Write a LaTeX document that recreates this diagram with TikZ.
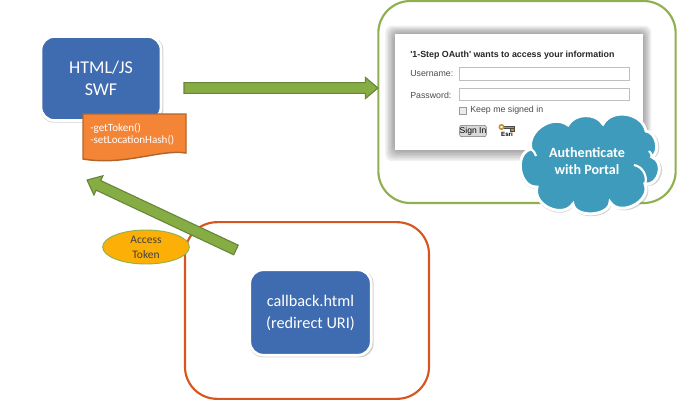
\documentclass[tikz,border=0pt]{standalone}
\usepackage{fontspec}
\setmainfont{Carlito}
\newfontfamily\formfont{Liberation Sans}
\usetikzlibrary{calc,shapes.geometric,shadows}

\definecolor{boxblue}{HTML}{3F6BB0}
\definecolor{popgreen}{HTML}{8FB04E}
\definecolor{arrowfill}{HTML}{86AC44}
\definecolor{arrowline}{HTML}{66843A}
\definecolor{redline}{HTML}{D9551F}
\definecolor{docfill}{HTML}{F58536}
\definecolor{docline}{HTML}{B0652C}
\definecolor{tokenfill}{HTML}{FCAF06}
\definecolor{cloudblue}{HTML}{3F9BBB}
\definecolor{keygold}{HTML}{C8922A}

\tikzset{
  softshadow/.style={drop shadow={opacity=.35,shadow scale=1.025,shadow xshift=.7pt,shadow yshift=-.8pt}},
  pagebox/.style={draw=white,line width=2pt,fill=boxblue,rounded corners=10pt,text=white,align=center,softshadow},
  framebox/.style={draw=#1,line width=1.6pt,rounded corners=24pt},
  formfield/.style={draw=black!25,line width=.7pt,fill=white,minimum width=128pt,minimum height=9.2pt,inner sep=0pt},
  formtext/.style={font=\formfont\fontsize{6.6}{8}\selectfont,text=black!70,inner sep=0pt},
  blockarrow/.style={fill=arrowfill,draw=arrowline,line width=.8pt,line join=miter},
}

% block arrow between two named points
\newcommand{\blockarrow}[2]{
  \coordinate (h) at ($(#2)!9.5pt!(#1)$);
  \draw[blockarrow] ($(#1)!4pt!90:(#2)$) -- ($(h)!4pt!-90:(#1)$) -- ($(h)!8pt!-90:(#1)$) -- (#2)
    -- ($(h)!8pt!90:(#1)$) -- ($(h)!4pt!90:(#1)$) -- ($(#1)!4pt!-90:(#2)$) -- cycle;
}

\begin{document}
\begin{tikzpicture}[x=.75pt,y=-.75pt]
\useasboundingbox (0,0) rectangle (678,400);

% popup frame
\node[framebox=popgreen,minimum width=223pt,minimum height=151.5pt] (popup) at (527,102) {};
\node[text=white,font=\bfseries\fontsize{12}{14}\selectfont,inner sep=0pt] (poptitle) at (518,21) {OAuth Login Pop-up (embed Portal or)};

% login form
\foreach \i in {1,...,7}
  \fill[black,opacity=.055,rounded corners=5pt] ({395-1.4*\i},{34-1.2*\i}) rectangle ({643+1.2*\i},{150+1.6*\i});
\node[fill=white,minimum width=186pt,minimum height=87pt,inner sep=0pt] (login) at (519,92) {};
\node[formtext,anchor=west,text=black!85,font=\formfont\bfseries\fontsize{6.65}{8}\selectfont] (logintitle) at (410,55.5) {'1-Step OAuth' wants to access your information};
\node[formtext,anchor=west] (userlabel) at (410,74) {Username:};
\node[formtext,anchor=west] (passlabel) at (410,95) {Password:};
\node[formfield] (userfield) at (544.5,74) {};
\node[formfield] (passfield) at (544.5,94.5) {};
\node[draw=black!40,fill=black!8,minimum size=5.5pt,inner sep=0pt] (keepbox) at (463,111) {};
\node[formtext,anchor=west] (keeplabel) at (470,110.5) {Keep me signed in};
\node[draw=black!55,fill=black!15,rounded corners=1.5pt,minimum width=20pt,minimum height=8.5pt,inner sep=0pt,
  font=\formfont\fontsize{6.4}{8}\selectfont] (signin) at (473,131) {Sign In};
% key icon
\draw[draw=black!70,fill=keygold,line width=.3pt] (501,126) rectangle (514,128.5);
\draw[draw=black!70,fill=keygold,line width=.3pt] (510,128.5) rectangle (514,131);
\draw[draw=keygold,fill=white,line width=1.2pt] (501.5,127) circle (2.2);
\node[inner sep=0pt,font=\formfont\bfseries\fontsize{4.6}{5}\selectfont] (esri) at (507,134.5) {Esri};

% cloud
\coordinate (c1) at (531,149);
\coordinate (c2) at (568,125);
\coordinate (c3) at (603,124);
\coordinate (c4) at (646,131);
\coordinate (c5) at (652,157);
\coordinate (c6) at (645,184);
\coordinate (c7) at (610,202);
\coordinate (c8) at (573,204);
\coordinate (c9) at (537,187);
\draw[draw=white,line width=2.2pt,fill=cloudblue,softshadow]
  (c1) to[bend left=70,looseness=1.1] (c2) to[bend left=60] (c3) to[bend left=70,looseness=1.1] (c4)
  to[bend left=70] (c5) to[bend left=85,looseness=1.3] (c6) to[bend left=85,looseness=1.2] (c7)
  to[bend left=85] (c8) to[bend left=80,looseness=1.2] (c9) to[bend left=85,looseness=1.2] (c1) -- cycle;
\draw[white,line width=1.6pt] (c5) to[bend right=20] (649,151);
\draw[white,line width=1.6pt] (634,165) to[bend left=50] (c6);
\draw[white,line width=1.6pt] (c1) to[bend left=20] (536,156);
\node[text=white,align=center,font=\bfseries\fontsize{10.6}{13.2}\selectfont,inner sep=0pt] (cloudtext) at (587,161) {Authenticate\\with Portal};

% client page
\node[pagebox,minimum width=90pt,minimum height=63pt,font=\fontsize{13.5}{16.5}\selectfont] (client) at (101,78.5) {HTML/JS\\SWF};
\draw[fill=docfill,draw=docline,line width=1.1pt] (83,114) coordinate (docnw) -- (186,114) -- (186,153)
  .. controls (160,149) and (125,166) .. (83,159) -- cycle;
\node[text=white,align=left,anchor=west,inner sep=0pt,font=\fontsize{8.3}{9}\selectfont] (doctext) at (90,134) {-getToken()\\-setLocationHash()};

% redirect frame
\node[framebox=redline,minimum width=183pt,minimum height=132.5pt] (redirect) at (307,310.5) {};
\node[pagebox,minimum width=91pt,minimum height=64pt,font=\fontsize{12.2}{16.5}\selectfont] (callback) at (310.5,312.5) {callback.html\\(redirect URI)};

% token
\node[ellipse,draw=popgreen,fill=tokenfill,line width=.7pt,minimum width=65pt,minimum height=25.5pt,inner sep=0pt,align=center,
  text=black!75,font=\fontsize{8.6}{11.25}\selectfont] (token) at (146,247) {Access\\Token};

% arrows
\coordinate (loginstart) at (184,88);
\coordinate (loginend) at (378,88);
\coordinate (tokenstart) at (236,250);
\coordinate (tokenend) at (87,180);
\blockarrow{loginstart}{loginend}
\blockarrow{tokenstart}{tokenend}
\end{tikzpicture}
\end{document}
